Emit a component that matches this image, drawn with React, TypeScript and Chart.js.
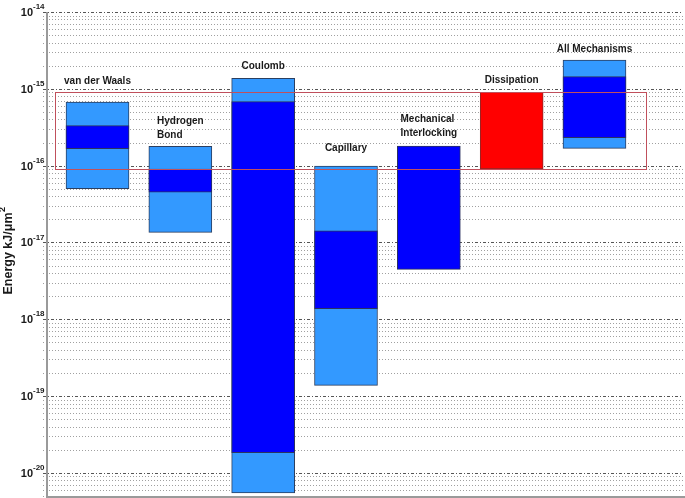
import React, { useEffect, useRef } from 'react';
import { Chart, registerables } from 'chart.js';

Chart.register(...registerables);

// ---- data ----
const categoryLabels: string[][] = [
  ['van der Waals'],
  ['Hydrogen', 'Bond'],
  ['Coulomb'],
  ['Capillary'],
  ['Mechanical', 'Interlocking'],
  ['Dissipation'],
  ['All Mechanisms'],
];
const categoryPositions = [1, 2, 3, 4, 5, 6, 7];
// full (light blue) range
const outerLow: (number | null)[] = [5.0e-17, 1.35e-17, 5.5e-21, 1.38e-19, null, null, 1.68e-16];
const outerHigh: (number | null)[] = [6.7e-16, 1.78e-16, 1.37e-15, 9.9e-17, null, null, 2.37e-15];
// core (dark blue) range
const innerLow: (number | null)[] = [1.66e-16, 4.5e-17, 1.83e-20, 1.37e-18, 4.47e-18, null, 2.31e-16];
const innerHigh: (number | null)[] = [3.31e-16, 9.04e-17, 6.8e-16, 1.42e-17, 1.8e-16, null, 1.44e-15];
// dissipation (red) range
const dissipationLow: (number | null)[] = [null, null, null, null, null, 9.04e-17, null];
const dissipationHigh: (number | null)[] = [null, null, null, null, null, 9.01e-16, null];
// highlighted band (category units) spanning the dissipation energy range
const bandFrom = 0.49;
const bandTo = 7.62;
// axis
const yMin = 5e-21;
const yMax = 1e-14;
const decadeExponents = [-14, -15, -16, -17, -18, -19, -20];
const gridMantissas = [1, 2, 3, 4, 5, 6, 7, 8, 9];
const gridExponents = [-21, -20, -19, -18, -17, -16, -15, -14];
const yTitleMain = 'Energy kJ/\u03BCm';
const yTitleSup = '2';

// ---- styles ----
const FONT = '"Liberation Sans", Arial, sans-serif';
const labelGaps = [21, 11, 12, 18, 13, 12, 11];
const LINE_H = 14;

function buildPoints(lo: (number | null)[], hi: (number | null)[]) {
  const pts: { x: number; y: [number, number] }[] = [];
  categoryPositions.forEach((x, i) => {
    const a = lo[i];
    const b = hi[i];
    if (a != null && b != null) pts.push({ x, y: [a, b] });
  });
  return pts;
}

const decorPlugin = {
  id: 'decor',
  beforeDatasetsDraw(chart: any) {
    const { ctx, chartArea: a, scales } = chart;
    const y = scales.y;
    ctx.save();
    // grid lines
    for (const e of gridExponents) {
      for (const m of gridMantissas) {
        const v = m * Math.pow(10, e);
        if (v < yMin * 0.999 || v > yMax * 1.001) continue;
        const py = Math.round(y.getPixelForValue(v)) + 0.5;
        const major = m === 1;
        ctx.beginPath();
        ctx.lineWidth = 1;
        ctx.strokeStyle = major ? '#555' : '#a0a0a0';
        ctx.setLineDash(major ? [3, 2, 1, 2] : [1, 2]);
        ctx.moveTo(a.left - 4, py);
        ctx.lineTo(a.right - 1, py);
        ctx.stroke();
      }
    }
    ctx.setLineDash([]);
    // axes lines
    ctx.strokeStyle = '#9a9a9a';
    ctx.lineWidth = 2;
    ctx.beginPath();
    ctx.moveTo(a.left, a.top);
    ctx.lineTo(a.left, a.bottom + 2);
    ctx.moveTo(a.left - 1, a.bottom + 1);
    ctx.lineTo(a.right + 1, a.bottom + 1);
    ctx.stroke();
    ctx.restore();
  },
  afterDatasetsDraw(chart: any) {
    const { ctx, scales } = chart;
    const x = scales.x;
    const y = scales.y;
    ctx.save();
    // highlight band
    const dLo = dissipationLow[5] as number;
    const dHi = dissipationHigh[5] as number;
    const bx1 = Math.round(x.getPixelForValue(bandFrom)) + 0.5;
    const bx2 = Math.round(x.getPixelForValue(bandTo)) + 0.5;
    const by1 = Math.round(y.getPixelForValue(dHi)) + 0.5;
    const by2 = Math.round(y.getPixelForValue(dLo)) + 0.5;
    ctx.strokeStyle = '#C0505C';
    ctx.lineWidth = 1;
    ctx.strokeRect(bx1, by1, bx2 - bx1, by2 - by1);

    // category labels
    ctx.fillStyle = '#1a1a1a';
    ctx.font = `bold 10px ${FONT}`;
    ctx.textBaseline = 'middle';
    ctx.textAlign = 'left';
    categoryLabels.forEach((lines, i) => {
      const highs = [outerHigh[i], innerHigh[i], dissipationHigh[i]].filter((v) => v != null) as number[];
      const top = Math.max(...highs);
      const pyTop = y.getPixelForValue(top);
      const cx = x.getPixelForValue(categoryPositions[i]);
      const maxW = Math.max(...lines.map((l) => ctx.measureText(l).width));
      const left = cx - maxW / 2;
      const lastY = pyTop - labelGaps[i];
      lines.forEach((line, k) => {
        ctx.fillText(line, left, lastY - (lines.length - 1 - k) * LINE_H);
      });
    });

    // y tick labels
    for (const e of decadeExponents) {
      const py = y.getPixelForValue(Math.pow(10, e));
      ctx.font = `bold 11px ${FONT}`;
      ctx.textAlign = 'right';
      ctx.fillText('10', 33, py + 1);
      ctx.font = `bold 8px ${FONT}`;
      ctx.textAlign = 'left';
      ctx.fillText(String(e), 33, py - 5);
    }

    // y title
    ctx.translate(9, 251);
    ctx.rotate(-Math.PI / 2);
    ctx.font = `bold 12.5px ${FONT}`;
    const wMain = ctx.measureText(yTitleMain).width;
    ctx.font = `bold 9px ${FONT}`;
    const wSup = ctx.measureText(yTitleSup).width;
    const start = -(wMain + wSup) / 2;
    ctx.font = `bold 12.5px ${FONT}`;
    ctx.textAlign = 'left';
    ctx.textBaseline = 'middle';
    ctx.fillText(yTitleMain, start, 0);
    ctx.font = `bold 9px ${FONT}`;
    ctx.fillText(yTitleSup, start + wMain + 0.5, -6);
    ctx.restore();
  },
};

export default function App() {
  const ref = useRef<HTMLCanvasElement | null>(null);
  useEffect(() => {
    document.body.style.margin = '0';
    if (!ref.current) return;
    const common = {
      barThickness: 63,
      borderWidth: 1,
      borderSkipped: false,
      grouped: false,
    };
    const chart = new Chart(ref.current, {
      type: 'bar',
      data: {
        datasets: [
          {
            ...common,
            label: 'core',
            data: buildPoints(innerLow, innerHigh),
            backgroundColor: '#0000FF',
            borderColor: '#2b3360',
            order: 0,
          } as any,
          {
            ...common,
            label: 'dissipation',
            data: buildPoints(dissipationLow, dissipationHigh),
            backgroundColor: '#FF0000',
            borderColor: '#8a2a2a',
            order: 1,
          } as any,
          {
            ...common,
            label: 'range',
            data: buildPoints(outerLow, outerHigh),
            backgroundColor: '#3399FF',
            borderColor: '#2b3f60',
            order: 2,
          } as any,
        ],
      },
      options: {
        responsive: true,
        maintainAspectRatio: false,
        animation: false,
        events: [],
        layout: { padding: { left: 47, right: 1, top: 12, bottom: 2 } },
        plugins: { legend: { display: false }, tooltip: { enabled: false } },
        scales: {
          x: { type: 'linear', min: 0.3903, max: 8.0806, offset: false, display: false, grid: { offset: false } },
          y: { type: 'logarithmic', min: yMin, max: yMax, display: false },
        },
      },
      plugins: [decorPlugin],
    });
    return () => chart.destroy();
  }, []);
  return (
    <div style={{ width: 685, height: 498, position: 'relative', background: '#fff' }}>
      <canvas ref={ref} />
    </div>
  );
}
